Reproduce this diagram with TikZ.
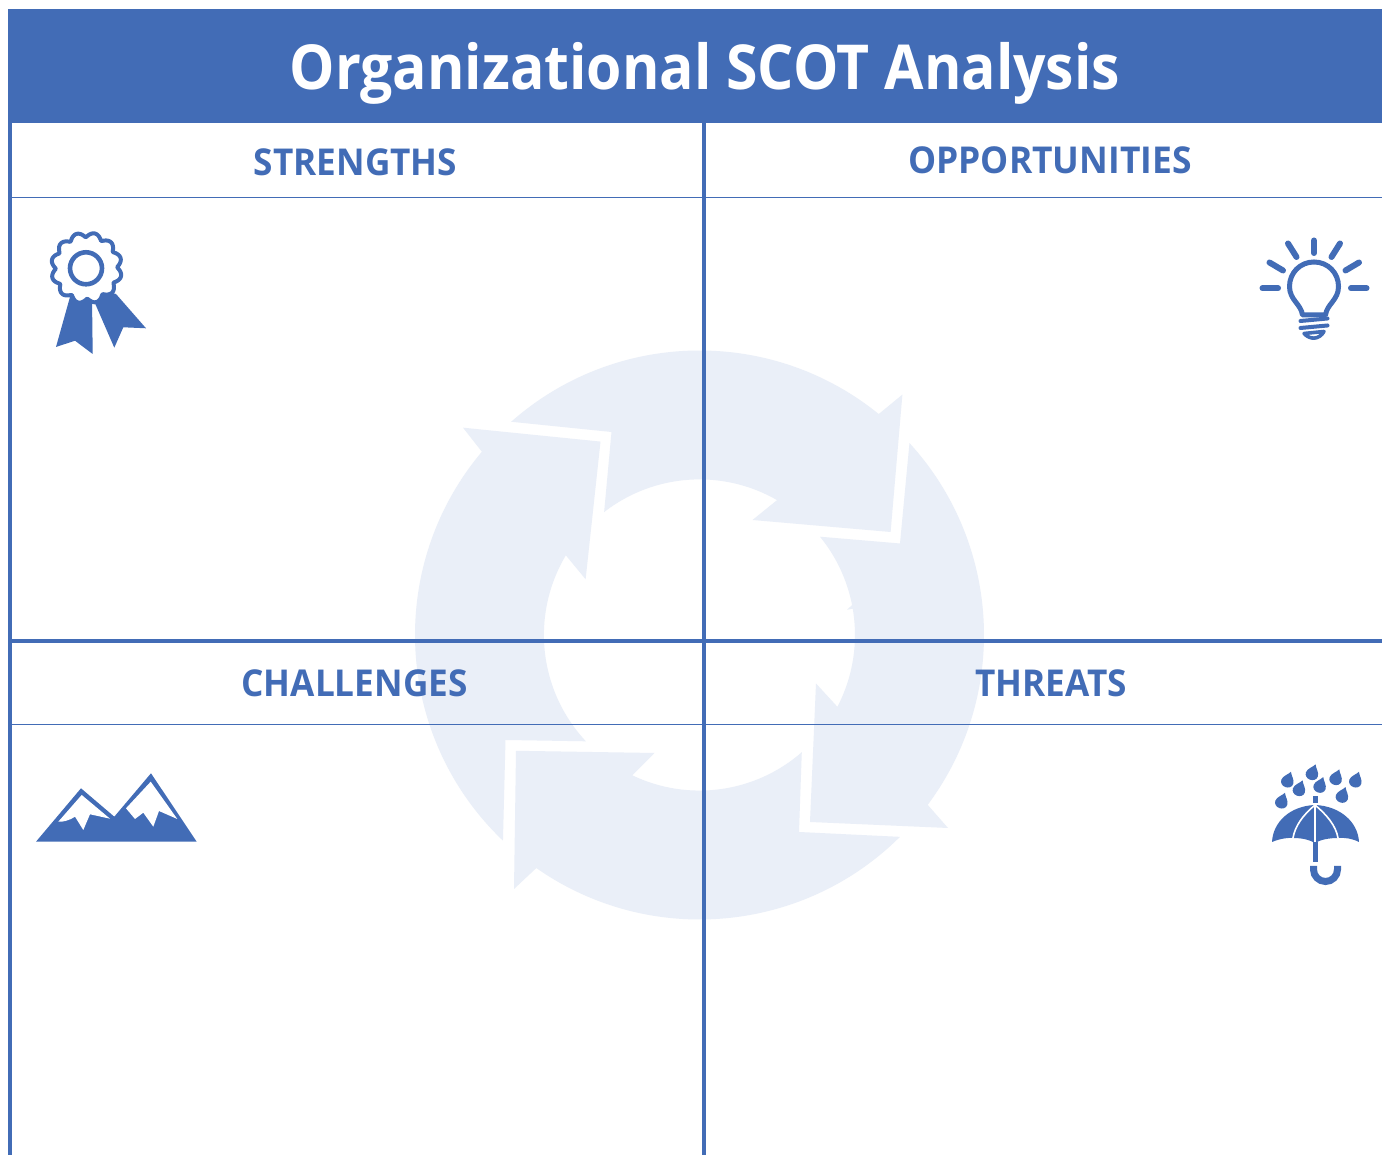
\documentclass[tikz,border=0pt]{standalone}
\usepackage{graphicx}
\usepackage{fontspec}
\setmainfont{Open Sans}
\definecolor{scotblue}{HTML}{426CB6}
\definecolor{wheelblue}{HTML}{EAEFF8}
\tikzset{
  wheel/.style={fill=wheelblue,draw=none},
  heavyrule/.style={draw=scotblue,line width=4pt},
  thinrule/.style={draw=scotblue,line width=1.4pt},
  iconfill/.style={fill=scotblue,draw=none},
  iconline/.style={draw=scotblue,line cap=round,line join=round},
  heading/.style={text=scotblue,font=\bfseries\fontsize{37}{44}\selectfont,inner sep=0pt,anchor=base},
  banner/.style={text=white,font=\bfseries\fontsize{62}{72}\selectfont,inner sep=0pt,anchor=base}
}
\newcommand{\raindrop}[2]{%
  \fill[scotblue,shift={(#1,#2)},rotate=20]
    (0,-9.5) .. controls (1.5,-6) and (6.3,-3) .. (6.3,1.2)
    .. controls (6.3,4.6) and (3.4,6.8) .. (0,6.8)
    .. controls (-3.4,6.8) and (-6.3,4.6) .. (-6.3,1.2)
    .. controls (-6.3,-3) and (-1.5,-6) .. (0,-9.5) -- cycle;}
\begin{document}
\begin{tikzpicture}[x=1pt,y=1pt]
\useasboundingbox (0,0) rectangle (1382,1155);
\fill[white] (0,0) rectangle (1382,1155);

% wheel of four arrows, centre (699.5,635) in image pixels
\begin{scope}[shift={(699.5pt,520pt)}]
  \fill[wheel] (131.45:284.5pt) arc[start angle=131.45,end angle=50.95,radius=284.5pt]
    -- (202.9,240.4) -- (191.1,103) -- (53,115)
    -- (60.1:155.6pt) arc[start angle=60.1,end angle=127.8,radius=155.6pt]
    -- (-88,203) -- cycle;
  \fill[wheel] (42.43:284.5pt) arc[start angle=42.43,end angle=-36.66,radius=284.5pt]
    -- (248.5,-193) -- (110.5,-187) -- (116.5,-48.5)
    -- (137.9,-71.8) arc[start angle=-27.5,end angle=9.76,radius=155.5pt]
    -- (147.5,25.2) -- (11.1:155.5pt) arc[start angle=11.1,end angle=39.2,radius=155.5pt]
    -- (200.5,91.5) -- cycle;
  \fill[wheel] (-45.2:284.5pt) arc[start angle=-45.2,end angle=-125,radius=284.5pt]
    -- (-185.5,-254) -- (-183.5,-115.8) -- (-45,-118)
    -- (-115.6:155.6pt) arc[start angle=-115.6,end angle=-48.9,radius=155.6pt]
    -- (99.5,-197) -- cycle;
  \fill[wheel] (226.3:284.5pt) arc[start angle=226.3,end angle=139.9,radius=284.5pt]
    -- (-236.5,207.3) -- (-99,193.4) -- (-113.9,55.7)
    -- (149.2:155.6pt) arc[start angle=149.2,end angle=223.1,radius=155.6pt]
    -- (-194,-105) -- cycle;
\end{scope}

\begin{scope}[yshift=1155pt,yscale=-1]
  % title band
  \fill[scotblue] (7.7,9) rectangle (1382,123);
  % grid
  \draw[heavyrule] (9.7,123) -- (9.7,1155);
  \draw[heavyrule] (703.5,123) -- (703.5,1155);
  \draw[heavyrule] (10,641.5) -- (1382,641.5);
  \draw[thinrule] (10,197.5) -- (1382,197.5);
  \draw[thinrule] (10,724.5) -- (1382,724.5);

  % ribbon icon
  \fill[iconfill] (70,297) -- (56,347) -- (75,340.7) -- (92.7,354) -- (92,297) -- cycle;
  \fill[iconfill] (94,301) -- (114.3,347.7) -- (123.3,327.3) -- (146,328.3) -- (116,294) -- (100,290) -- cycle;
  \draw[scotblue,line width=4pt,fill=white,line join=round]
    plot[domain=0:360,samples=181,variable=\t] ({86.5+(30.5+5*abs(sin(6*\t+8)))*cos(\t)},{268+(30.5+5*abs(sin(6*\t+8)))*sin(\t)}) -- cycle;
  \draw[scotblue,line width=4.6pt] (86,268.3) circle[radius=16pt];

  % light bulb icon
  \draw[iconline,line width=6pt] (1314,240.5) -- (1314,253);
  \draw[iconline,line width=6pt] (1288,243.5) -- (1296.5,257);
  \draw[iconline,line width=6pt] (1340,243.5) -- (1331.5,257);
  \draw[iconline,line width=6pt] (1269.5,262.5) -- (1283,270.5);
  \draw[iconline,line width=6pt] (1359,262.5) -- (1345.5,270.5);
  \draw[iconline,line width=6pt] (1262.5,288.3) -- (1278,288.3);
  \draw[iconline,line width=6pt] (1351,288.3) -- (1366.5,288.3);
  \draw[iconline,line width=5pt]
    (1302.5,315) .. controls (1301,304) and (1289.5,300) .. (1289.5,286.5)
    .. controls (1289.5,273) and (1300,262) .. (1314,262)
    .. controls (1328,262) and (1338.5,273) .. (1338.5,286.5)
    .. controls (1338.5,300) and (1327,304) .. (1325.5,315) -- cycle;
  \draw[iconline,line width=4pt] (1300.5,321) -- (1327.5,318.5);
  \draw[iconline,line width=4pt] (1300.5,328) -- (1327.5,325.5);
  \draw[iconline,line width=3.6pt] (1304,333.5) .. controls (1310,340) and (1319,340) .. (1324,331.5) -- cycle;

  % mountain icon
  \fill[iconfill] (36,841.7) -- (81,788.3) -- (114.3,816.7) -- (151,773.3) -- (196.7,841.7) -- cycle;
  \fill[white] (81.7,795) -- (58.3,821.7) .. controls (63,822) and (68,821) .. (75,816.7) -- (83.3,830) -- (90,814.3) -- (110,818.7) -- cycle;
  \fill[white] (150.7,781.7) -- (126,808.3) -- (135,819) -- (143.3,812.7) -- (153.3,826.7) -- (159,811) -- (177.3,819) -- cycle;

  % umbrella icon
  \raindrop{1287.7}{780.7}
  \raindrop{1312.3}{773.3}
  \raindrop{1336}{778.3}
  \raindrop{1355.7}{780.7}
  \raindrop{1299.3}{789.3}
  \raindrop{1320}{786}
  \raindrop{1342.3}{796}
  \raindrop{1281.7}{801.7}
  \fill[iconfill] (1312.5,796) rectangle (1317.7,803.5);
  \fill[iconfill] (1315,805) .. controls (1290,806) and (1273,822) .. (1272,842)
    .. controls (1280,838.5) and (1289,837.5) .. (1293.5,838)
    .. controls (1302,838) and (1310,840) .. (1315,843)
    .. controls (1320,840) and (1328,838) .. (1338,838)
    .. controls (1345,837.5) and (1352,838.5) .. (1359,842)
    .. controls (1358,822) and (1340,806) .. (1315,805) -- cycle;
  \draw[white,line width=1.6pt] (1315,805) -- (1315,843);
  \draw[white,line width=1.6pt] (1315,805) .. controls (1303,815) and (1295,826) .. (1293,838);
  \draw[white,line width=1.6pt] (1315,805) .. controls (1327,815) and (1336,826) .. (1338,838);
  \fill[iconfill] (1312.5,842) rectangle (1317.7,862);
  \draw[scotblue,line width=7pt] (1313.5,866) -- (1313.5,869.5) arc[start angle=180,end angle=0,radius=12pt] -- (1337.5,866);
\end{scope}

\node[banner] (title) at (705,1155-89.5) {\scalebox{0.921}[1]{Organizational SCOT Analysis}};
\node[heading] (strengths) at (355.5,1155-175.5) {\scalebox{0.95}[1]{STRENGTHS}};
\node[heading] (opportunities) at (1050,1155-173.5) {\scalebox{0.956}[1]{OPPORTUNITIES}};
\node[heading] (challenges) at (354.5,1155-696.5) {\scalebox{0.95}[1]{CHALLENGES}};
\node[heading] (threats) at (1051,1155-696.5) {\scalebox{0.95}[1]{THREATS}};
\end{tikzpicture}
\end{document}
